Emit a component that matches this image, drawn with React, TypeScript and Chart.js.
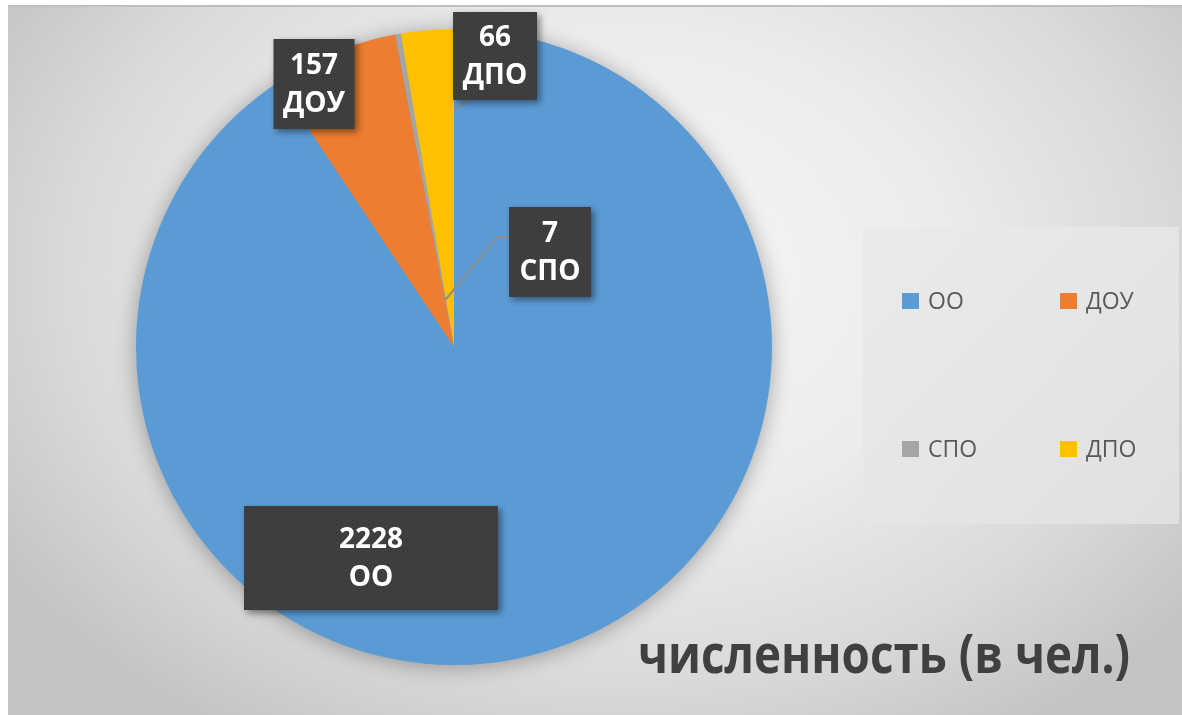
import React, { useEffect, useRef } from "react";
import { Chart, registerables } from "chart.js";

Chart.register(...registerables);

const categories = ["ОО", "ДОУ", "СПО", "ДПО"];
const values = [2228, 157, 7, 66];
const colors = ["#5B9BD5", "#ED7D31", "#A5A5A5", "#FFC000"];
const titleText = "численность (в чел.)";

// label box placement relative to pie centre: [dx, dy, w, h]
const labelBoxes: [number, number, number, number][] = [
  [-83, 211, 254, 104],
  [-140, -263, 81, 90],
  [96, -95, 82, 90],
  [41, -291, 84, 88],
];

const W = 1174;
const H = 710;

function makePattern(ctx: CanvasRenderingContext2D) {
  const c = document.createElement("canvas");
  c.width = 4;
  c.height = 4;
  const p = c.getContext("2d")!;
  p.fillStyle = "#3c3c3c";
  p.fillRect(0, 0, 4, 4);
  p.fillStyle = "#505050";
  p.fillRect(1, 1, 1, 1);
  p.fillStyle = "#464646";
  p.fillRect(3, 3, 1, 1);
  return ctx.createPattern(c, "repeat")!;
}

const decorPlugin = {
  id: "decor",
  beforeDraw(chart: any) {
    const ctx: CanvasRenderingContext2D = chart.ctx;
    ctx.save();
    ctx.save();
    ctx.translate(W * 0.52, H * 0.38);
    ctx.scale(1.35, 1);
    const g = ctx.createRadialGradient(0, 0, 0, 0, 0, 540);
    g.addColorStop(0, "#f7f7f7");
    g.addColorStop(0.45, "#ececec");
    g.addColorStop(0.75, "#dadada");
    g.addColorStop(1, "#c4c4c4");
    ctx.fillStyle = g;
    ctx.fillRect(-W, -H, W * 2, H * 2);
    ctx.restore();
    ctx.fillStyle = "#bfbfbf";
    ctx.fillRect(0, 0, W, 2);
    ctx.restore();
  },
  beforeDatasetsDraw(chart: any) {
    const ctx: CanvasRenderingContext2D = chart.ctx;
    const arc = chart.getDatasetMeta(0).data[0];
    if (!arc) return;
    ctx.save();
    ctx.shadowColor = "rgba(0,0,0,0.35)";
    ctx.shadowBlur = 22;
    ctx.shadowOffsetX = 0;
    ctx.shadowOffsetY = 2;
    ctx.fillStyle = colors[0];
    ctx.beginPath();
    ctx.arc(arc.x, arc.y, arc.outerRadius - 1, 0, Math.PI * 2);
    ctx.fill();
    ctx.restore();
  },
  afterDraw(chart: any) {
    const ctx: CanvasRenderingContext2D = chart.ctx;
    const meta = chart.getDatasetMeta(0);
    const cx = meta.data[0].x;
    const cy = meta.data[0].y;
    const pattern = makePattern(ctx);

    ctx.save();
    ctx.strokeStyle = "#8c8c8c";
    ctx.lineWidth = 2;
    {
      const a = meta.data[2];
      const mid = (a.startAngle + a.endAngle) / 2;
      const px = a.x + Math.cos(mid) * 48;
      const py = a.y + Math.sin(mid) * 48;
      const [dx, dy, w, h] = labelBoxes[2];
      const bx = cx + dx - w / 2;
      const by = cy + dy - h / 2 + 30;
      ctx.beginPath();
      ctx.moveTo(bx, by);
      ctx.lineTo(bx - 12, by);
      ctx.lineTo(px, py);
      ctx.stroke();
    }
    {
      const [dx, dy, w, h] = labelBoxes[3];
      const bx = cx + dx - w / 2;
      const by = cy + dy + h / 2;
      ctx.beginPath();
      ctx.moveTo(bx + 15, by);
      ctx.lineTo(bx + 1, by + 10);
      ctx.stroke();
    }
    ctx.restore();

    for (let i = 0; i < values.length; i++) {
      const [dx, dy, w, h] = labelBoxes[i];
      const bx = cx + dx - w / 2;
      const by = cy + dy - h / 2;
      ctx.save();
      ctx.shadowColor = "rgba(0,0,0,0.45)";
      ctx.shadowBlur = 7;
      ctx.shadowOffsetX = 3;
      ctx.shadowOffsetY = 3;
      ctx.fillStyle = pattern;
      ctx.fillRect(bx, by, w, h);
      ctx.restore();
      ctx.save();
      ctx.fillStyle = "#ffffff";
      ctx.font = "bold 28px 'Open Sans'";
      ctx.textAlign = "center";
      ctx.textBaseline = "middle";
      ctx.fillText(String(values[i]), cx + dx, cy + dy - 18);
      ctx.fillText(categories[i], cx + dx, cy + dy + 20);
      ctx.restore();
    }

    ctx.save();
    const lx = 855, ly = 222, lw = 316, lh = 297;
    const lg = ctx.createLinearGradient(lx, ly, lx + lw, ly + lh);
    lg.addColorStop(0, "#ebebeb");
    lg.addColorStop(1, "#e0e0e0");
    ctx.fillStyle = lg;
    ctx.fillRect(lx, ly, lw, lh);
    const colX = [894, 1052];
    const rowY = [296, 444];
    ctx.font = "23px 'Open Sans'";
    ctx.textBaseline = "middle";
    ctx.textAlign = "left";
    const bg = chart.data.datasets[0].backgroundColor;
    chart.data.labels.forEach((lab: string, i: number) => {
      const x = colX[i % 2];
      const y = rowY[Math.floor(i / 2)];
      ctx.fillStyle = bg[i];
      ctx.fillRect(x, y - 8, 17, 16);
      ctx.fillStyle = "#595959";
      ctx.fillText(lab, x + 26, y + 1);
    });
    ctx.restore();

    ctx.save();
    ctx.fillStyle = "#404040";
    ctx.textAlign = "left";
    ctx.textBaseline = "alphabetic";
    let size = 44;
    ctx.font = `bold ${size}px 'Open Sans'`;
    const tw = ctx.measureText(titleText).width;
    size = size * (492 / tw);
    ctx.font = `bold ${size}px 'Open Sans'`;
    ctx.translate(630, 668);
    ctx.scale(1, 1.18);
    ctx.fillText(titleText, 0, 0);
    ctx.restore();
  },
};

export default function App() {
  const ref = useRef<HTMLCanvasElement>(null);
  useEffect(() => {
    if (!ref.current) return;
    const chart = new Chart(ref.current, {
      type: "pie",
      data: {
        labels: categories,
        datasets: [
          {
            data: values,
            backgroundColor: colors,
            borderWidth: 0,
            hoverOffset: 0,
            offset: 0,
          },
        ],
      },
      options: {
        responsive: false,
        animation: false,
        events: [],
        layout: { padding: { left: 128, right: 410, top: 24, bottom: 50 } },
        plugins: {
          legend: { display: false },
          tooltip: { enabled: false },
          title: { display: false },
        },
      },
      plugins: [decorPlugin],
    });
    return () => chart.destroy();
  }, []);
  return (
    <div style={{ position: "absolute", left: 8, top: 5, width: W, height: H }}>
      <canvas ref={ref} width={W} height={H} style={{ width: W, height: H, display: "block" }} />
    </div>
  );
}
